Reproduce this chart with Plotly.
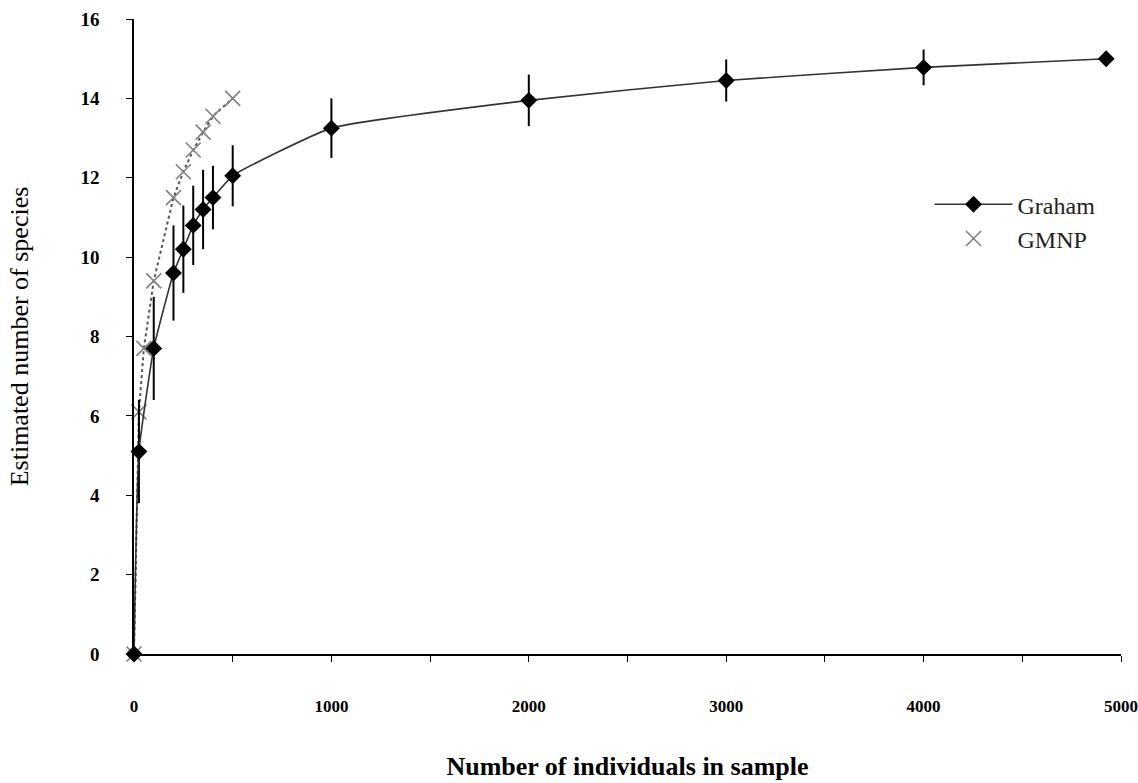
import plotly.graph_objects as go

# Data
graham_x = [0, 25, 100, 200, 250, 300, 350, 400, 500, 1000, 2000, 3000, 4000, 4925]
graham_y = [0, 5.1, 7.7, 9.6, 10.2, 10.8, 11.2, 11.5, 12.05, 13.25, 13.95, 14.45, 14.78, 15.0]
graham_err = [0, 1.3, 1.3, 1.2, 1.1, 1.0, 1.0, 0.8, 0.77, 0.75, 0.65, 0.53, 0.45, 0]

gmnp_x = [0, 25, 50, 100, 200, 250, 300, 350, 400, 500]
gmnp_y = [0, 6.1, 7.7, 9.4, 11.5, 12.15, 12.7, 13.15, 13.55, 14.0]

x_ticks = [0, 1000, 2000, 3000, 4000, 5000]
y_ticks = [0, 2, 4, 6, 8, 10, 12, 14, 16]

serif = "Liberation Serif, DejaVu Serif, serif"

gmnp_marker = dict(symbol="x-thin", size=15, color="#808080",
                   line=dict(color="#808080", width=1.6))

fig = go.Figure()

fig.add_trace(go.Scatter(
    x=gmnp_x, y=gmnp_y, name="GMNP", mode="lines+markers",
    line=dict(color="#555555", width=2, dash="dot"),
    marker=gmnp_marker, showlegend=False, cliponaxis=False,
))

fig.add_trace(go.Scatter(
    x=graham_x, y=graham_y, name="Graham", mode="lines+markers",
    line=dict(color="#333333", width=1.6, shape="spline", smoothing=0.4),
    marker=dict(symbol="diamond", size=13, color="black"),
    error_y=dict(type="data", array=graham_err, visible=True,
                 color="black", thickness=2, width=0),
    cliponaxis=False,
))

# legend entry for GMNP (marker only, as in the original legend)
fig.add_trace(go.Scatter(
    x=[None], y=[None], name="GMNP", mode="markers", marker=gmnp_marker,
))

fig.update_layout(
    width=1138, height=783,
    margin=dict(l=134, r=17, t=19, b=129),
    plot_bgcolor="white", paper_bgcolor="white",
    font=dict(family=serif, color="black"),
    showlegend=True,
    legend=dict(x=0.806, y=0.743, xanchor="left", yanchor="top",
                font=dict(family=serif, size=24, color="#222222"),
                traceorder="normal", bgcolor="rgba(0,0,0,0)",
                itemwidth=78, tracegroupgap=0),
    xaxis=dict(
        range=[0, 5000], tickvals=x_ticks, ticktext=[str(v) for v in x_ticks],
        showline=True, linecolor="black", linewidth=1.5,
        showgrid=False, zeroline=False, automargin=False,
        ticks="outside", ticklen=6, tickcolor="black",
        minor=dict(ticks="outside", ticklen=6, tickcolor="black", dtick=500),
        tickfont=dict(family=serif, size=17, color="black", weight="bold"),
        ticklabelstandoff=30, ticklabeloverflow="allow",
        title=dict(text="<b>Number of individuals in sample</b>",
                   font=dict(family=serif, size=26, color="black"),
                   standoff=42),
    ),
    yaxis=dict(
        range=[0, 16], tickvals=y_ticks, ticktext=[str(v) for v in y_ticks],
        showline=True, linecolor="black", linewidth=1.5,
        showgrid=False, zeroline=False, automargin=False,
        ticks="outside", ticklen=6, tickcolor="black",
        tickfont=dict(family=serif, size=19, color="black", weight="bold"),
        ticklabelstandoff=23,
        title=dict(text="Estimated number of species",
                   font=dict(family=serif, size=26, color="black"),
                   standoff=44),
    ),
)

fig.write_html(
    "out.html",
    config={"displayModeBar": False},
    post_script="document.body.style.margin='0';document.body.style.overflow='hidden';",
)
